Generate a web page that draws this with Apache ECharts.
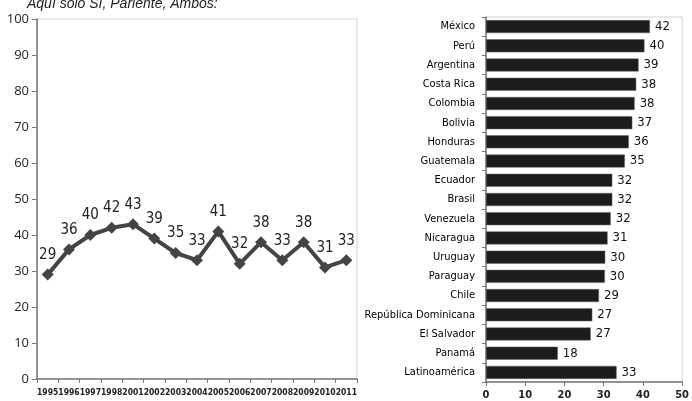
<!DOCTYPE html>
<html>
<head>
<meta charset="utf-8">
<script src="https://cdn.jsdelivr.net/npm/echarts@6/dist/echarts.min.js"></script>
<style>
html,body{margin:0;padding:0;background:#fff;}
#c{width:692px;height:401px;}
</style>
</head>
<body>
<div id="c"></div>
<script>
const years = ['1995','1996','1997','1998','2001','2002','2003','2004','2005','2006','2007','2008','2009','2010','2011'];
const yearValues = [29,36,40,42,43,39,35,33,41,32,38,33,38,31,33];
const yTicks = [0,10,20,30,40,50,60,70,80,90,100];

const countries = ['México','Perú','Argentina','Costa Rica','Colombia','Bolivia','Honduras','Guatemala','Ecuador','Brasil','Venezuela','Nicaragua','Uruguay','Paraguay','Chile','República Dominicana','El Salvador','Panamá','Latinoamérica'];
const countryValues = [41.8,40.4,38.9,38.3,37.9,37.3,36.4,35.4,32.2,32.2,31.8,31.0,30.4,30.3,28.8,27.1,26.7,18.3,33.3];
const countryLabels = [42,40,39,38,38,37,36,35,32,32,32,31,30,30,29,27,27,18,33];
const xTicks = [0,10,20,30,40,50];

const chart = echarts.init(document.getElementById('c'), null, {renderer:'canvas'});
const cal = '"DejaVu Sans Condensed", "Liberation Sans", sans-serif';
chart.setOption({
  animation:false,
  backgroundColor:'#fff',
  title:{
    text:'Aquí solo Sí, Pariente, Ambos:',
    left:22, top:-8,
    textStyle:{fontSize:14, fontStyle:'italic', fontWeight:'normal', color:'#222', fontFamily:'Liberation Sans'}
  },
  grid:[
    {left:37, top:19, width:320, height:360, show:true, borderColor:'#d0d0d0', borderWidth:1},
    {left:486, top:17, width:202, height:366, show:true, borderColor:'#d0d0d0', borderWidth:1}
  ],
  xAxis:[
    {gridIndex:0, type:'category', data:years, boundaryGap:true,
     axisLine:{lineStyle:{color:'#777', width:1.5}},
     axisTick:{show:true, alignWithLabel:false, length:4, lineStyle:{color:'#777'}},
     axisLabel:{interval:0, margin:9, fontSize:8.5, fontWeight:'bold', color:'#222', fontFamily:cal}},
    {gridIndex:1, type:'value', min:0, max:50, interval:10,
     splitLine:{show:false},
     axisLine:{show:true, lineStyle:{color:'#777', width:1.5}},
     axisTick:{show:true, length:4, lineStyle:{color:'#777'}},
     axisLabel:{fontSize:11, fontWeight:'bold', color:'#222', margin:8, fontFamily:cal,
       formatter:v=>xTicks.includes(v)?String(v):''}}
  ],
  yAxis:[
    {gridIndex:0, type:'value', min:0, max:100, interval:10,
     splitLine:{show:false},
     axisLine:{show:true, lineStyle:{color:'#777', width:1.5}},
     axisTick:{show:true, length:5, lineStyle:{color:'#777'}},
     axisLabel:{fontSize:13, color:'#222', margin:8, fontFamily:'"Open Sans", sans-serif',
       formatter:v=>yTicks.includes(v)?String(v):''}},
    {gridIndex:1, type:'category', data:countries, inverse:true,
     axisLine:{show:true, lineStyle:{color:'#777', width:1.5}},
     axisTick:{show:true, alignWithLabel:false, length:4, lineStyle:{color:'#777'}},
     axisLabel:{interval:0, fontSize:11, color:'#000', margin:11, fontFamily:cal}}
  ],
  series:[
    {type:'line', xAxisIndex:0, yAxisIndex:0, data:yearValues,
     lineStyle:{color:'#444', width:4},
     itemStyle:{color:'#444'},
     symbol:'diamond', symbolSize:12,
     label:{show:true, position:'top', distance:6, fontSize:15, color:'#222', fontFamily:cal}},
    {type:'bar', xAxisIndex:1, yAxisIndex:1, data:countryValues,
     barWidth:13,
     itemStyle:{color:'#1c1c1c', borderColor:'#666', borderWidth:0.5},
     label:{show:true, position:'right', distance:5, fontSize:13, color:'#111', fontFamily:cal,
       formatter:p=>String(countryLabels[p.dataIndex])}}
  ]
});
</script>
</body>
</html>
